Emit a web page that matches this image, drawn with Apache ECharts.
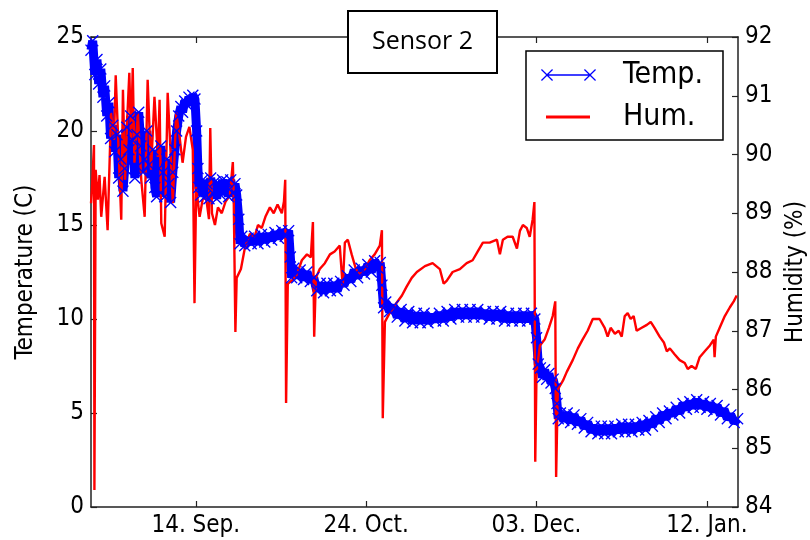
<!DOCTYPE html>
<html>
<head>
<meta charset="utf-8">
<title>Sensor 2</title>
<script src="https://cdn.jsdelivr.net/npm/echarts@6/dist/echarts.min.js"></script>
<style>
  html, body { margin: 0; padding: 0; background: #fff; }
  #chart { width: 810px; height: 540px; }
</style>
</head>
<body>
<div id="chart"></div>
<script>
// x values are days counted from 14 Sep
const tickDays = [0, 40, 80, 120];
const tickLabels = ['14. Sep.', '24. Oct.', '03. Dec.', '12. Jan.'];

const tempDays = [
  -24.6, -24.2, -23.7, -23.2, -22.8, -22.3, -21.8, -21.4, -20.9, -20.4, -20.0, -19.5, -19.0, -18.5,
  -18.1, -17.6, -17.1, -16.7, -16.2, -15.7, -15.3, -14.8, -14.3, -13.8, -13.4, -12.9, -12.4, -12.0,
  -11.5, -11.0, -10.6, -10.1, -9.6, -9.2, -8.7, -8.2, -7.7, -7.3, -6.8, -6.3, -5.9, -5.4, -4.9, -4.5,
  -4.0, -3.5, -3.1, -2.6, -2.1, -1.6, -1.2, -0.7, -0.2, 0.2, 0.5, 0.7,
  1.2, 1.6, 2.1, 2.6, 3.1, 3.5, 4.0, 4.5, 4.9, 5.4, 5.9, 6.3, 6.8, 7.3, 7.7, 8.2, 8.7, 9.2, 9.6,
  10.1, 10.4,
  10.8, 11.5, 12.3, 13.0, 13.8, 14.6, 15.4, 16.2, 17.0, 17.8, 18.6, 19.4, 20.2, 21.0, 21.8,
  22.2, 22.5,
  23.0, 23.7, 24.5, 25.3, 26.1, 26.9, 27.7, 28.4, 29.2, 30.0, 30.8, 31.6, 32.4, 33.2, 34.0, 34.8,
  35.6, 36.4, 37.2, 38.0, 38.8, 39.6, 40.4, 41.2, 42.0, 42.8, 43.3,
  43.7, 44.1,
  44.6, 45.5, 46.4, 47.3, 48.2, 49.1, 50.0, 50.9, 51.8, 52.7, 53.6, 54.5, 55.4, 56.3, 57.2, 58.1,
  59.0, 59.9, 60.8, 61.7, 62.6, 63.5, 64.4, 65.3, 66.2, 67.1, 68.0, 68.9, 69.8, 70.7, 71.6, 72.5,
  73.4, 74.3, 75.2, 76.1, 77.0, 77.9, 78.8, 79.6,
  80.0, 80.4,
  80.9, 81.4, 81.9, 82.4, 82.9, 83.4, 83.9, 84.4,
  84.8, 85.1,
  85.6, 86.4, 87.2, 88.0, 88.8, 89.6, 90.4, 91.2, 92.0, 92.8, 93.6, 94.4, 95.2, 96.0, 96.8, 97.6,
  98.4, 99.2, 100.0, 100.8, 101.6, 102.4, 103.2, 104.0, 104.8, 105.6, 106.4, 107.2, 108.0, 108.8,
  109.6, 110.4, 111.2, 112.0, 112.8, 113.6, 114.4, 115.2, 116.0, 116.8, 117.6, 118.4, 119.2, 120.0,
  120.8, 121.6, 122.4, 123.2, 124.0, 124.8, 125.6, 126.4, 127.2
];
const tempC = [
  24.3, 24.8, 23.0, 23.8, 22.5, 23.3, 21.8, 22.4, 20.8, 21.5, 19.6, 20.3, 18.9, 19.8,
  17.5, 18.5, 16.8, 18.0, 20.2, 19.0, 20.8, 19.5, 17.5, 19.8, 21.0, 19.2, 17.8, 18.5,
  20.0, 18.2, 17.5, 19.0, 17.0, 16.5, 18.0, 19.2, 17.8, 16.5, 18.5, 17.2, 16.2, 17.8, 19.0, 20.0,
  20.8, 21.3, 21.0, 21.6, 21.4, 21.8, 21.5, 21.9, 21.7, 20.0, 18.0, 17.0,
  16.6, 17.4, 16.5, 17.2, 16.4, 17.5, 16.7, 17.3, 16.4, 17.2, 16.6, 17.4, 16.8, 17.3, 16.5, 17.4, 16.7, 17.2, 16.6,
  15.3, 14.0,
  14.4, 13.9, 14.3, 14.0, 14.4, 14.0, 14.5, 14.1, 14.5, 14.2, 14.6, 14.3, 14.7, 14.4, 14.7,
  13.3, 12.2,
  12.7, 12.2, 12.6, 12.1, 12.5, 12.0, 12.2, 11.5, 11.9, 11.4, 11.9, 11.5, 11.9, 11.5, 12.0, 11.8,
  12.3, 12.0, 12.6, 12.2, 12.7, 12.4, 12.9, 12.5, 13.1, 12.7, 13.0,
  11.8, 10.6,
  10.9, 10.4, 10.7, 10.1, 10.5, 9.9, 10.4, 9.8, 10.3, 9.8, 10.3, 9.8, 10.2, 9.9, 10.3, 9.9,
  10.4, 10.0, 10.5, 10.1, 10.5, 10.1, 10.5, 10.1, 10.5, 10.1, 10.4, 10.0, 10.4, 10.0, 10.4, 9.9,
  10.3, 9.9, 10.3, 9.9, 10.3, 9.9, 10.3, 10.0,
  9.0, 7.6,
  7.4, 6.9, 7.3, 6.8, 7.1, 6.6, 6.8, 6.3,
  5.5, 4.7,
  5.0, 4.6, 5.0, 4.5, 4.9, 4.4, 4.7, 4.2, 4.5, 4.0, 4.3, 3.9, 4.3, 3.9, 4.3, 3.9,
  4.3, 4.0, 4.4, 4.0, 4.4, 4.0, 4.4, 4.1, 4.5, 4.1, 4.6, 4.3, 4.8, 4.5,
  5.0, 4.7, 5.1, 4.9, 5.3, 5.0, 5.5, 5.2, 5.6, 5.3, 5.7, 5.3, 5.6, 5.2,
  5.5, 5.1, 5.4, 4.9, 5.2, 4.7, 4.9, 4.5, 4.7
];

const humDays = [
  -24.6, -24.4, -23.9, -23.8, -23.5, -23.0, -22.6, -22.2, -21.4, -20.7, -19.9, -19.2, -18.8, -18.3,
  -17.5, -17.1, -16.6, -16.1, -15.6, -15.2, -14.8, -14.4, -13.6, -12.8, -12.0, -11.3, -10.5, -9.7,
  -8.9, -8.5, -8.1, -7.3, -6.6, -5.8, -5.4, -4.6, -3.8, -3.1, -2.3, -1.5, -0.7, -0.3, 0.1, 0.9,
  1.6, 2.4, 3.1, 3.4, 3.8, 4.5, 5.2, 6.1, 7.0, 8.0, 8.7, 8.9, 9.3, 9.6, 10.6, 11.5, 12.7, 13.8,
  14.6, 15.5, 16.4, 17.4, 18.3, 19.2, 20.2, 20.7, 21.0, 21.2, 21.6, 22.5, 23.7, 24.9, 26.1, 27.0,
  27.5, 27.8, 28.2, 29.1, 30.3, 31.5, 32.6, 33.8, 34.5, 35.0, 35.7, 36.6, 37.6, 38.5, 39.7, 40.8,
  42.0, 43.2, 43.7, 43.9, 44.4, 45.5, 46.9, 48.4, 49.5, 50.7, 51.9, 53.8, 55.6, 57.3, 58.2, 58.9,
  60.3, 62.0, 63.6, 65.0, 66.2, 67.4, 69.0, 70.7, 71.4, 72.1, 73.2, 74.4, 75.4, 76.1, 76.8, 77.7,
  78.4, 79.1, 79.5, 79.7, 80.0, 80.8, 81.9, 82.9, 83.8, 84.4, 84.6, 85.0, 86.2, 87.1, 88.5, 89.7,
  90.8, 92.0, 93.2, 94.8, 96.0, 96.7, 97.4, 98.4, 99.3, 100.0, 100.7, 101.4, 102.1, 102.8, 103.5,
  104.7, 105.9, 106.8, 107.7, 108.9, 109.9, 110.6, 111.3, 112.4, 113.6, 114.8, 115.5, 116.4, 117.4,
  118.3, 119.5, 120.7, 121.6, 121.8, 122.1, 123.0, 124.2, 125.4, 126.3, 127.0
];
const humPct = [
  89.17, 89.40, 90.16, 84.29, 89.74, 89.23, 89.65, 88.94, 89.62, 88.71, 90.71, 90.25, 91.35, 90.42,
  88.89, 91.10, 89.57, 90.59, 91.39, 90.25, 91.47, 89.86, 90.71, 89.57, 88.94, 91.27, 89.74, 90.98,
  89.96, 90.93, 88.83, 88.60, 91.05, 89.86, 89.17, 90.71, 90.30, 89.86, 90.30, 90.47, 90.08, 87.47, 89.45, 88.94,
  89.23, 89.28, 88.90, 90.45, 89.00, 88.80, 89.10, 89.00, 89.20, 89.30, 89.87, 89.30, 86.98, 87.90, 88.05, 88.40, 88.65, 88.60,
  88.80, 88.75, 88.95, 89.10, 89.00, 89.15, 89.00, 89.20, 89.57, 85.77, 87.80, 87.85, 87.95, 88.20, 88.30, 88.25,
  88.85, 86.90, 87.90, 88.05, 88.15, 88.30, 88.35, 88.45, 87.75, 88.50, 88.55, 88.30, 88.05, 87.95, 88.05, 88.20,
  88.30, 88.45, 88.71, 85.51, 87.15, 87.30, 87.45, 87.60, 87.75, 87.90, 88.00, 88.10, 88.15, 88.05, 87.80, 87.85,
  88.00, 88.05, 88.15, 88.20, 88.35, 88.50, 88.50, 88.55, 88.30, 88.55, 88.60, 88.60, 88.40, 88.70, 88.80, 88.75,
  88.60, 88.90, 89.19, 84.77, 86.30, 86.75, 86.85, 87.05, 87.25, 87.50, 84.51, 86.00, 86.15, 86.30, 86.50, 86.70,
  86.85, 87.00, 87.20, 87.20, 87.05, 86.90, 87.05, 86.95, 87.00, 86.90, 87.25, 87.30, 87.20, 87.25, 87.00,
  87.05, 87.10, 87.15, 87.05, 86.90, 86.80, 86.65, 86.70, 86.60, 86.50, 86.45, 86.35, 86.40, 86.35,
  86.55, 86.65, 86.75, 86.85, 86.55, 86.90, 87.05, 87.25, 87.40, 87.50, 87.60
];

const FONT = '"DejaVu Sans Condensed", "DejaVu Sans", sans-serif';

// filled "x" polygon centred on (cx, cy)
function xShape(cx, cy, h, d) {
  const p = [
    [cx - h, cy - h + d], [cx - h + d, cy - h], [cx, cy - d], [cx + h - d, cy - h],
    [cx + h, cy - h + d], [cx + d, cy], [cx + h, cy + h - d], [cx + h - d, cy + h],
    [cx, cy + d], [cx - h + d, cy + h], [cx - h, cy + h - d], [cx - d, cy]
  ];
  return 'M' + p.map(q => q[0] + ',' + q[1]).join('L') + 'Z';
}
// tiny corner specks so the legend icon keeps its box
const iconBox = 'M0,0L0.01,0L0.01,0.01Z M78,14L77.99,14L77.99,13.99Z ';
const tempIcon = 'path://' + iconBox + xShape(7, 7, 6, 0.9) + ' ' + xShape(50, 7, 6, 0.9) + ' M7,6.2L50,6.2L50,7.8L7,7.8Z';
const humIcon = 'path://' + iconBox + 'M6,5.6L50,5.6L50,8.4L6,8.4Z';

const chart = echarts.init(document.getElementById('chart'));

const axisLine = { show: true, onZero: false, lineStyle: { color: '#222', width: 1.5 } };
const axisTick = { show: true, inside: true, length: 6, lineStyle: { color: '#222', width: 1.2 } };

chart.setOption({
  animation: false,
  backgroundColor: '#fff',
  textStyle: { fontFamily: FONT },
  title: {
    text: 'Sensor 2',
    left: 348,
    top: 11,
    padding: [18, 24, 19, 24],
    borderColor: '#000',
    borderWidth: 2,
    backgroundColor: '#fff',
    textStyle: { fontFamily: '"Open Sans", sans-serif', fontSize: 25, fontWeight: 'normal', color: '#000' }
  },
  legend: {
    orient: 'vertical',
    left: 526,
    top: 51,
    padding: [9, 20, 8, 14],
    itemGap: 12,
    itemWidth: 78,
    itemHeight: 14,
    backgroundColor: '#fff',
    borderColor: '#000',
    borderWidth: 1.5,
    borderRadius: 0,
    itemStyle: { borderWidth: 0 },
    textStyle: { fontFamily: FONT, fontSize: 30, color: '#000' },
    data: [
      { name: 'Temp.', icon: tempIcon },
      { name: 'Hum.', icon: humIcon }
    ]
  },
  grid: { left: 91, top: 37, right: 72, bottom: 33, outerBoundsMode: 'none' },
  xAxis: [
    {
      type: 'value', position: 'bottom', min: -24.6, max: 127.3,
      axisLine: axisLine,
      axisTick: Object.assign({ customValues: tickDays }, axisTick),
      axisLabel: {
        customValues: tickDays,
        margin: 7,
        fontSize: 24,
        color: '#000',
        formatter: v => tickLabels[tickDays.indexOf(v)] || ''
      },
      splitLine: { show: false }
    },
    {
      type: 'value', position: 'top', min: -24.6, max: 127.3,
      axisLine: axisLine,
      axisTick: Object.assign({ customValues: tickDays }, axisTick),
      axisLabel: { show: false },
      splitLine: { show: false }
    }
  ],
  yAxis: [
    {
      type: 'value', position: 'left', min: 0, max: 25, interval: 5,
      name: 'Temperature (C)', nameLocation: 'middle', nameRotate: 90, nameGap: 53,
      nameTextStyle: { fontSize: 24, color: '#000' },
      axisLine: axisLine, axisTick: axisTick,
      axisLabel: { margin: 7, fontSize: 24, color: '#000' },
      splitLine: { show: false }
    },
    {
      type: 'value', position: 'right', min: 84, max: 92, interval: 1,
      name: 'Humidity (%)', nameLocation: 'middle', nameRotate: 90, nameGap: 45,
      nameTextStyle: { fontSize: 24, color: '#000' },
      axisLine: axisLine, axisTick: axisTick,
      axisLabel: { margin: 7, fontSize: 24, color: '#000' },
      splitLine: { show: false }
    }
  ],
  series: [
    {
      name: 'Temp.',
      type: 'line',
      xAxisIndex: 0,
      yAxisIndex: 0,
      data: tempDays.map((d, i) => [d, tempC[i]]),
      symbol: 'path://' + xShape(5, 5, 5, 0.8),
      symbolSize: 12,
      itemStyle: { color: '#0000ff', borderWidth: 0 },
      lineStyle: { color: '#0000ff', width: 9 },
      emphasis: { disabled: true }
    },
    {
      name: 'Hum.',
      type: 'line',
      xAxisIndex: 0,
      yAxisIndex: 1,
      data: humDays.map((d, i) => [d, humPct[i]]),
      symbol: 'none',
      itemStyle: { color: '#ff0000' },
      lineStyle: { color: '#ff0000', width: 2.4 },
      emphasis: { disabled: true }
    }
  ]
});
</script>
</body>
</html>
